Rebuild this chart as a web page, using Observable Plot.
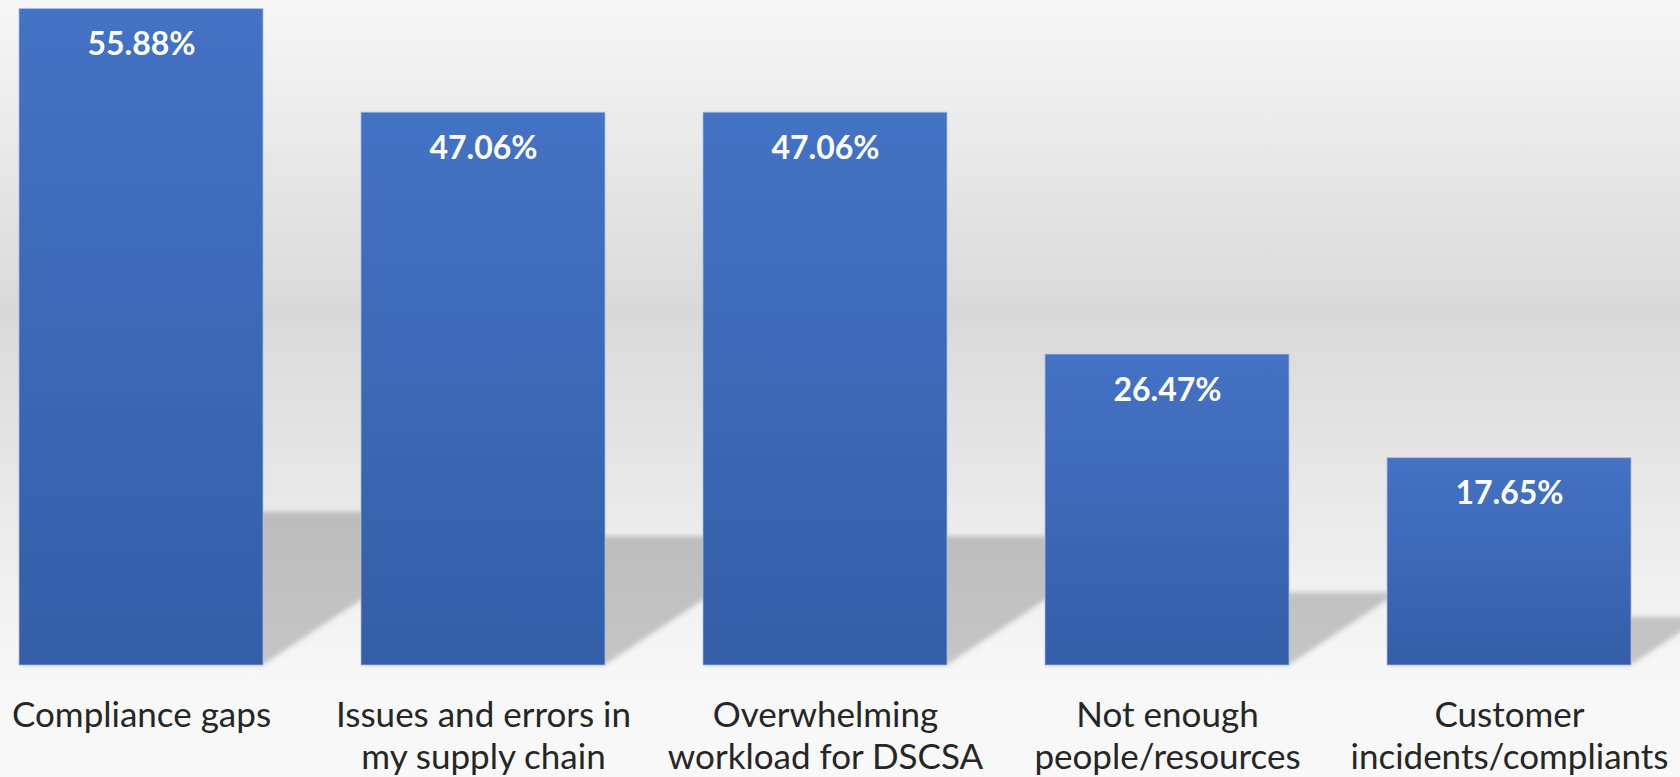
<!DOCTYPE html>
<html><head><meta charset="utf-8">
<script src="https://cdn.jsdelivr.net/npm/d3@7"></script>
<script src="https://cdn.jsdelivr.net/npm/@observablehq/plot@0.6"></script>
<style>
html,body{margin:0;padding:0;background:#f8f8f8;overflow:hidden}
#chart svg{display:block}
</style></head><body><div id="chart"></div>
<script>
const categories = ["Compliance gaps","Issues and errors in my supply chain","Overwhelming workload for DSCSA","Not enough people/resources","Customer incidents/compliants"];
const values = [55.88, 47.06, 47.06, 26.47, 17.65];
const valueLabels = ["55.88%","47.06%","47.06%","26.47%","17.65%"];
const tickLabels = ["Compliance gaps","Issues and errors in\nmy supply chain","Overwhelming\nworkload for DSCSA","Not enough\npeople/resources","Customer\nincidents/compliants"];

const data = categories.map((c, i) => ({category: c, value: values[i], label: valueLabels[i], tick: tickLabels[i]}));

const W = 1680, H = 777;
const plot = Plot.plot({
  width: W, height: H,
  marginTop: 8.6, marginBottom: 112, marginLeft: 0, marginRight: 0,
  style: {
    fontFamily: "Lato, 'Open Sans', sans-serif",
    background: "linear-gradient(to bottom, #f7f7f7 0%, #d9d9d9 40%, #f8f8f8 87.5%, #f8f8f8 100%)",
    overflow: "hidden"
  },
  x: {domain: categories, range: [-29.5, 1680.5], paddingInner: 0.286, paddingOuter: 0.143, axis: null},
  y: {domain: [0, 55.88], axis: null},
  marks: [
    Plot.barY(data, {x: "category", y: "value", fill: "black", fillOpacity: 0.2}),
    Plot.barY(data, {x: "category", y: "value", fill: "url(#barGrad)", stroke: "#a9bde3", strokeOpacity: 0.75, strokeWidth: 1}),
    Plot.text(data, {x: "category", y: "value", text: "label", dy: 36, lineAnchor: "middle", fill: "white", fontSize: 32, fontWeight: "bold"}),
    Plot.text(data, {x: "category", text: "tick", frameAnchor: "bottom", dy: 31, lineAnchor: "top", fontSize: 35, lineHeight: 1.21, fill: "#262626"})
  ]
});

const svg = d3.select(plot);
const defs = svg.insert("defs", ":first-child");
const grad = defs.append("linearGradient").attr("id", "barGrad").attr("x1", 0).attr("y1", 0).attr("x2", 0).attr("y2", 1);
grad.append("stop").attr("offset", "0%").attr("stop-color", "#4472c4");
grad.append("stop").attr("offset", "100%").attr("stop-color", "#345ea8");
const filt = defs.append("filter").attr("id", "shadowBlur").attr("x", "-20%").attr("y", "-20%").attr("width", "140%").attr("height", "140%");
filt.append("feGaussianBlur").attr("stdDeviation", 2.6);

// skewed, flattened copy of the bars as a floor shadow
const B = plot.scale("y").apply(0);
const K = 0.35, S = 0.233;
const shadowG = plot.querySelectorAll('g[aria-label="bar"]')[0];
const outer = document.createElementNS("http://www.w3.org/2000/svg", "g");
outer.setAttribute("filter", "url(#shadowBlur)");
const mid = document.createElementNS("http://www.w3.org/2000/svg", "g");
mid.setAttribute("transform", `translate(0,${B}) matrix(1,0,${-K},${S},0,0) translate(0,${-B})`);
shadowG.parentNode.insertBefore(outer, shadowG);
mid.appendChild(shadowG);
outer.appendChild(mid);

document.getElementById("chart").appendChild(plot);
</script>
</body></html>
